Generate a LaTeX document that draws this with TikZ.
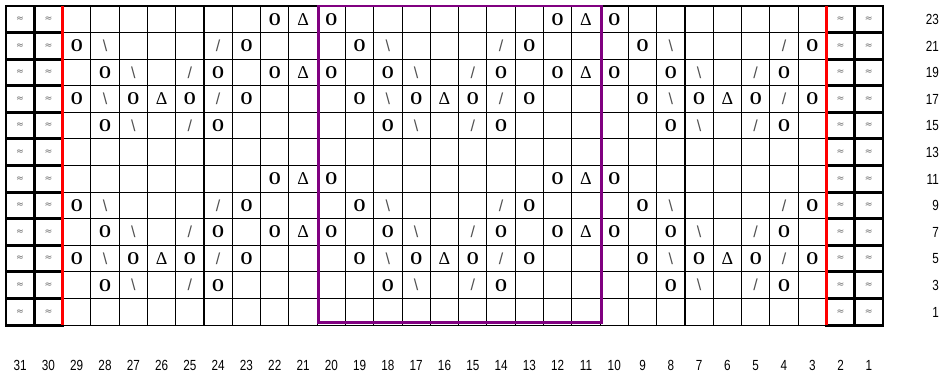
\documentclass[tikz,border=0pt]{standalone}
\usepackage{fontspec}
\newfontfamily\chartserif{Liberation Serif}
\newfontfamily\chartsans{Liberation Sans}
\newfontfamily\chartsym{DejaVu Sans}
\definecolor{ink}{HTML}{000000}
\definecolor{edgered}{HTML}{FF0000}
\definecolor{repeatpurple}{HTML}{800080}
\definecolor{slashgray}{HTML}{505050}
\definecolor{edgegray}{HTML}{707070}
\tikzset{
  gridline/.style={line width=0.8pt, draw=ink},
  edgebox/.style={line width=2.2pt, draw=ink},
  edgeline/.style={line width=2.4pt, draw=edgered},
  repeatbox/.style={line width=2.2pt, draw=repeatpurple},
  stitch/.style={inner sep=0pt, text=ink},
  yo/.style={stitch, xscale=0.85, font=\chartserif\bfseries\fontsize{13.5}{13.5}\selectfont},
  dec/.style={stitch, font=\chartserif\fontsize{13.5}{13.5}\selectfont},
  lean/.style={stitch, text=slashgray, font=\chartsans\fontsize{12}{12}\selectfont},
  selv/.style={stitch, text=edgegray, font=\chartsym\fontsize{7}{7}\selectfont},
  numlabel/.style={inner sep=0pt, xscale=0.8, text height=7.9pt, text depth=0pt, font=\chartsans\fontsize{11}{11}\selectfont, text=ink}
}

\begin{document}
\begin{tikzpicture}[x=-21.225pt, y=9.975pt]
\useasboundingbox (31.712,-3.76) rectangle (-1.832,24.45);

% Grid
\foreach \k in {0,...,31} \draw[gridline] ({\k+0.5},0) -- ({\k+0.5},24);
\foreach \k in {0,2,...,24} \draw[gridline] (0.5,\k) -- (31.5,\k);

% Edge stitches
\foreach \col in {1,2,30,31}
  \foreach \row in {1,3,...,23}
  {
    \draw[edgebox] ({\col-0.5},{\row-1}) rectangle ({\col+0.5},{\row+1});
    \node[selv] (sel-\col-\row) at (\col,\row) {≈};
  }
\draw[edgeline] (29.5,0) -- (29.5,24);
\draw[edgeline] (2.5,0) -- (2.5,24);

% Pattern repeat
\draw[repeatbox] (20.45,0.2) rectangle (10.45,24);

% Yarn overs
\foreach \row/\cols in {3/{28,24,18,14,8,4}, 5/{29,27,25,23,19,17,15,13,9,7,5,3}, 7/{28,24,22,20,18,14,12,10,8,4}, 9/{29,23,19,13,9,3}, 11/{22,20,12,10}}
  \foreach \base in {0,12}
  {
    \pgfmathtruncatemacro\rr{\row+\base}
    \foreach \col in \cols \node[yo] (yo-\col-\rr) at (\col,\rr) {O};
  }

% Decreases
\foreach \row/\cols in {3/{27,17,7}, 5/{28,18,8}, 7/{27,17,7}, 9/{28,18,8}}
  \foreach \base in {0,12}
  {
    \pgfmathtruncatemacro\rr{\row+\base}
    \foreach \col in \cols \node[lean] (lt-\col-\rr) at (\col,\rr) {\textbackslash};
  }
\foreach \row/\cols in {3/{25,15,5}, 5/{24,14,4}, 7/{25,15,5}, 9/{24,14,4}}
  \foreach \base in {0,12}
  {
    \pgfmathtruncatemacro\rr{\row+\base}
    \foreach \col in \cols \node[lean] (rt-\col-\rr) at (\col,\rr) {/};
  }
\foreach \row/\cols in {5/{26,16,6}, 7/{21,11}, 11/{21,11}}
  \foreach \base in {0,12}
  {
    \pgfmathtruncatemacro\rr{\row+\base}
    \foreach \col in \cols \node[dec] (dec-\col-\rr) at (\col,\rr) {Δ};
  }

% Numbers
\foreach \n in {1,...,31} \node[numlabel] (col-\n) at (\n,-3) {\n};
\foreach \n in {1,3,...,23} \node[numlabel, anchor=east] (row-\n) at (-1.48,\n) {\n};
\end{tikzpicture}
\end{document}
